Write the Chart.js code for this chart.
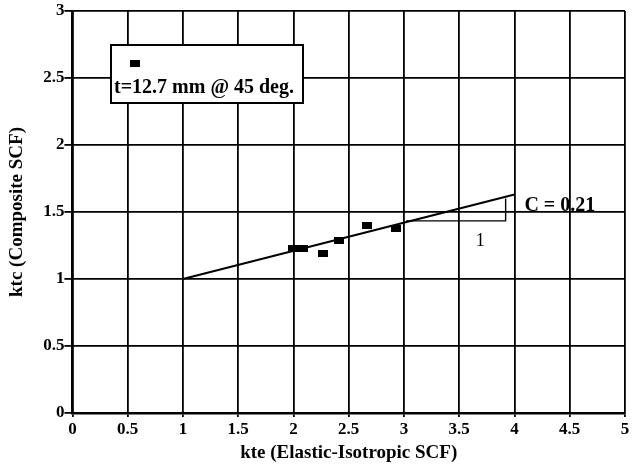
<!DOCTYPE html>
<html>
<head>
<meta charset="utf-8">
<script src="https://cdn.jsdelivr.net/npm/chart.js@4.4.0/dist/chart.umd.min.js"></script>
<style>
  html, body { margin: 0; padding: 0; background: #fff; }
  #c { display: block; }
</style>
</head>
<body>
<canvas id="c" width="636" height="467"></canvas>
<script>
// ---- data ----
const xTickLabels = ['0', '0.5', '1', '1.5', '2', '2.5', '3', '3.5', '4', '4.5', '5'];
const yTickLabels = ['0', '0.5', '1', '1.5', '2', '2.5', '3'];
const kte = [2.00, 2.09, 2.27, 2.41, 2.67, 2.93];
const ktc = [1.225, 1.23, 1.19, 1.29, 1.40, 1.38];
const fitX = [1, 4];
const fitY = [1, 1.63];
const triX = [3.02, 3.92, 3.92];
const triY = [1.434, 1.434, 1.60];
const legendText = 't=12.7 mm @ 45 deg.';
const slopeLabel = 'C = 0.21';
const slopeLabelPos = [4.09, 1.545];
const runLabel = '1';
const runLabelPos = [3.69, 1.28];
const xTitle = 'kte (Elastic-Isotropic SCF)';
const yTitle = 'ktc (Composite SCF)';

const FONT = '"Liberation Serif", "DejaVu Serif", serif';

// square marker image
const marker = document.createElement('canvas');
marker.width = 10; marker.height = 7;
(function () { const m = marker.getContext('2d'); m.fillStyle = '#000'; m.fillRect(0, 0, 10, 7); })();

const toPts = (xs, ys) => xs.map((x, i) => ({ x: x, y: ys[i] }));

const annotations = {
  id: 'annotations',
  afterDraw(chart) {
    const ctx = chart.ctx;
    const xs = chart.scales.x, ys = chart.scales.y;
    ctx.save();
    ctx.fillStyle = '#000';
    ctx.textBaseline = 'middle';
    ctx.textAlign = 'left';
    ctx.font = 'bold 20px ' + FONT;
    ctx.fillText(slopeLabel, xs.getPixelForValue(slopeLabelPos[0]), ys.getPixelForValue(slopeLabelPos[1]));
    ctx.textAlign = 'center';
    ctx.font = '18px ' + FONT;
    ctx.fillText(runLabel, xs.getPixelForValue(runLabelPos[0]), ys.getPixelForValue(runLabelPos[1]));

    // legend box
    const bx = 111, by = 45, bw = 192, bh = 58;
    ctx.fillStyle = '#fff';
    ctx.fillRect(bx, by, bw, bh);
    ctx.strokeStyle = '#000';
    ctx.lineWidth = 2;
    ctx.strokeRect(bx, by, bw, bh);
    ctx.drawImage(marker, 130, 60);
    ctx.fillStyle = '#000';
    ctx.textAlign = 'left';
    ctx.font = 'bold 20px ' + FONT;
    ctx.fillText(legendText, 114, 88);
    ctx.restore();
  }
};

new Chart(document.getElementById('c'), {
  type: 'scatter',
  data: {
    datasets: [
      {
        label: legendText,
        data: toPts(kte, ktc),
        pointStyle: marker,
        pointRadius: 5,
        backgroundColor: '#000',
        borderColor: '#000',
        showLine: false
      },
      {
        label: 'fit',
        data: toPts(fitX, fitY),
        showLine: true,
        borderColor: '#000',
        borderWidth: 2,
        pointRadius: 0,
        fill: false
      },
      {
        label: 'slope',
        data: toPts(triX, triY),
        showLine: true,
        borderColor: '#000',
        borderWidth: 1.4,
        pointRadius: 0,
        fill: false
      }
    ]
  },
  options: {
    responsive: false,
    animation: false,
    devicePixelRatio: 1,
    layout: { padding: { left: 6, right: 11, top: 11, bottom: 2.6 } },
    plugins: {
      legend: { display: false },
      tooltip: { enabled: false }
    },
    scales: {
      x: {
        type: 'linear',
        min: 0, max: 5,
        afterFit(s) { s.height = 51.4; },
        ticks: {
          stepSize: 0.5,
          color: '#000',
          font: { family: FONT, size: 17, weight: 'bold' },
          padding: 2,
          maxRotation: 0,
          callback: (v) => xTickLabels[Math.round(v / 0.5)]
        },
        grid: { color: '#000', lineWidth: 1.8, tickLength: 4, drawTicks: true },
        border: { color: '#000', width: 2.5 },
        title: {
          display: true, text: xTitle, color: '#000',
          font: { family: FONT, size: 19, weight: 'bold' },
          padding: 0
        }
      },
      y: {
        type: 'linear',
        min: 0, max: 3,
        afterFit(s) { s.width = 66.4; },
        ticks: {
          stepSize: 0.5,
          color: '#000',
          font: { family: FONT, size: 17, weight: 'bold' },
          padding: 0,
          callback: (v) => yTickLabels[Math.round(v / 0.5)]
        },
        grid: { color: '#000', lineWidth: 1.8, tickLength: 8, drawTicks: true },
        border: { color: '#000', width: 2.2 },
        title: {
          display: true, text: yTitle, color: '#000',
          font: { family: FONT, size: 19, weight: 'bold' },
          padding: 0
        }
      }
    }
  },
  plugins: [annotations]
});
</script>
</body>
</html>
